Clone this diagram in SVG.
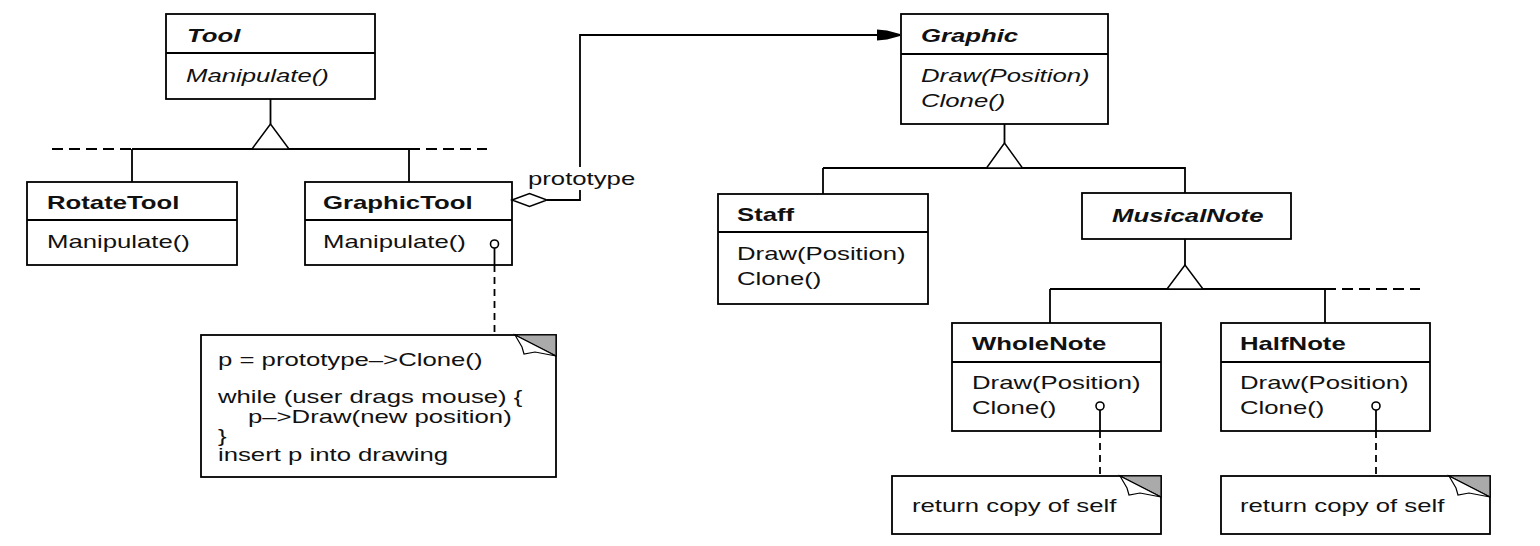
<svg xmlns="http://www.w3.org/2000/svg" width="1540" height="546" viewBox="0 0 1540 546">
<style>
.box{fill:#fff;stroke:#000;stroke-width:1.8}
.ln{fill:none;stroke:#000;stroke-width:1.8}
.dash{fill:none;stroke:#000;stroke-width:1.8;stroke-dasharray:11 6}
.vdash{fill:none;stroke:#000;stroke-width:1.8;stroke-dasharray:7 5}
.tri{fill:#fff;stroke:#000;stroke-width:1.5}
.fold{fill:#aaa;stroke:#000;stroke-width:1.2}
.flap{fill:#fff;stroke:#000;stroke-width:1.2}
.lolly{fill:#fff;stroke:#000;stroke-width:1.6}
text{font-family:"Liberation Sans",Arial,Helvetica,sans-serif;font-size:18px;fill:#111}
.b{font-weight:bold}
.i{font-style:italic}
</style>
<rect width="1540" height="546" fill="#fff"/>

<g id="Tool">
  <rect class="box" x="166" y="14" width="209" height="85"/>
  <line class="ln" x1="166" y1="53" x2="375" y2="53"/>
  <text class="b i" transform="translate(187 42) scale(1.43 1)">Tool</text>
  <text class="i" transform="translate(186 82) scale(1.43 1)">Manipulate()</text>
</g>

<g id="RotateTool">
  <rect class="box" x="27" y="182" width="210" height="83"/>
  <line class="ln" x1="27" y1="220" x2="237" y2="220"/>
  <text class="b" transform="translate(47 209) scale(1.43 1)">RotateTool</text>
  <text transform="translate(47 248) scale(1.43 1)">Manipulate()</text>
</g>

<g id="GraphicTool">
  <rect class="box" x="305" y="182" width="207" height="83"/>
  <line class="ln" x1="305" y1="220" x2="512" y2="220"/>
  <text class="b" transform="translate(323 209) scale(1.43 1)">GraphicTool</text>
  <text transform="translate(323 248) scale(1.43 1)">Manipulate()</text>
</g>

<g id="GraphicToolNote">
  <rect class="box" x="201" y="335" width="355" height="142"/>
  <polygon class="fold" points="515,335 556,335 556,356"/>
  <polygon class="flap" points="515,335 522,347 524,354 535,352 556,356"/>
  <text transform="translate(218 366) scale(1.43 1)">p = prototype–&gt;Clone()</text>
  <text transform="translate(218 403) scale(1.43 1)">while (user drags mouse) {</text>
  <text transform="translate(248 423) scale(1.43 1)">p–&gt;Draw(new position)</text>
  <text transform="translate(218 442) scale(1.43 1)">}</text>
  <text transform="translate(218 461) scale(1.43 1)">insert p into drawing</text>
</g>

<g id="Graphic">
  <rect class="box" x="901" y="14" width="207" height="110"/>
  <line class="ln" x1="901" y1="54" x2="1108" y2="54"/>
  <text class="b i" transform="translate(921 42) scale(1.43 1)">Graphic</text>
  <text class="i" transform="translate(921 82) scale(1.43 1)">Draw(Position)</text>
  <text class="i" transform="translate(921 107) scale(1.43 1)">Clone()</text>
</g>

<g id="Staff">
  <rect class="box" x="718" y="194" width="210" height="110"/>
  <line class="ln" x1="718" y1="232" x2="928" y2="232"/>
  <text class="b" transform="translate(737 221) scale(1.43 1)">Staff</text>
  <text transform="translate(737 260) scale(1.43 1)">Draw(Position)</text>
  <text transform="translate(737 285) scale(1.43 1)">Clone()</text>
</g>

<g id="MusicalNote">
  <rect class="box" x="1082" y="193" width="209" height="46"/>
  <text class="b i" transform="translate(1112 222) scale(1.43 1)">MusicalNote</text>
</g>

<g id="WholeNote">
  <rect class="box" x="952" y="323" width="209" height="108"/>
  <line class="ln" x1="952" y1="362" x2="1161" y2="362"/>
  <text class="b" transform="translate(972 350) scale(1.43 1)">WholeNote</text>
  <text transform="translate(972 389) scale(1.43 1)">Draw(Position)</text>
  <text transform="translate(972 414) scale(1.43 1)">Clone()</text>
</g>

<g id="HalfNote">
  <rect class="box" x="1221" y="323" width="209" height="108"/>
  <line class="ln" x1="1221" y1="362" x2="1430" y2="362"/>
  <text class="b" transform="translate(1240 350) scale(1.43 1)">HalfNote</text>
  <text transform="translate(1240 389) scale(1.43 1)">Draw(Position)</text>
  <text transform="translate(1240 414) scale(1.43 1)">Clone()</text>
</g>

<g id="WholeNoteNote">
  <rect class="box" x="892" y="476" width="269" height="58"/>
  <polygon class="fold" points="1120,476 1161,476 1161,497"/>
  <polygon class="flap" points="1120,476 1127,488 1129,495 1140,493 1161,497"/>
  <text transform="translate(912 512) scale(1.43 1)">return copy of self</text>
</g>

<g id="HalfNoteNote">
  <rect class="box" x="1221" y="476" width="269" height="58"/>
  <polygon class="fold" points="1449,476 1490,476 1490,497"/>
  <polygon class="flap" points="1449,476 1456,488 1458,495 1469,493 1490,497"/>
  <text transform="translate(1240 512) scale(1.43 1)">return copy of self</text>
</g>

<g id="connectors">
  <path class="ln" d="M270.5,99V124M132,149H409M132,149V182M409,149V182"/>
  <path class="dash" d="M52,149H132M409,149H487"/>
  <polygon class="tri" points="270.5,124 252,149 289,149"/>
  <path class="ln" d="M1004.5,124V143M823,168H1185V193M823,168V194"/>
  <polygon class="tri" points="1004.5,143 986.5,168 1022.5,168"/>
  <path class="ln" d="M1185,239V265M1050,289H1325M1050,289V323M1325,289V323"/>
  <path class="dash" d="M1325,289H1420"/>
  <polygon class="tri" points="1185,265 1167,289 1203,289"/>
  <path class="ln" d="M547,200H580V190M580,167V35H878"/>
  <polygon points="512,200 529.5,193.5 547,200 529.5,206.5" fill="#fff" stroke="#000" stroke-width="1.5"/>
  <path d="M877,29.5L887,30.5L900,34V36L887,39.5L877,40.5Z" fill="#000"/>
  <text transform="translate(528 185) scale(1.43 1)">prototype</text>
  <circle class="lolly" cx="494.5" cy="244" r="4"/>
  <path class="ln" d="M494.5,248V265"/>
  <path class="vdash" d="M494.5,265V335"/>
  <circle class="lolly" cx="1100" cy="406" r="4"/>
  <path class="ln" d="M1100,410V431"/>
  <path class="vdash" d="M1100,431V476"/>
  <circle class="lolly" cx="1376" cy="406" r="4"/>
  <path class="ln" d="M1376,410V431"/>
  <path class="vdash" d="M1376,431V476"/>
</g>
</svg>
